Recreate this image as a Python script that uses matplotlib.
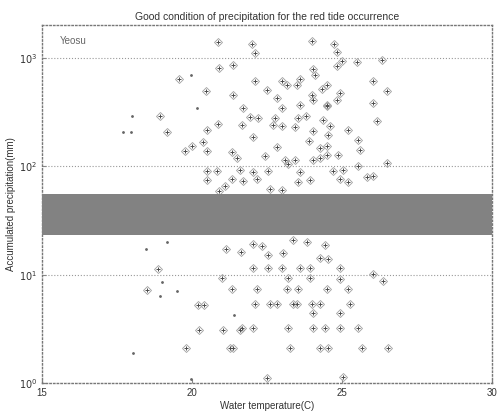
import matplotlib
matplotlib.use("Agg")
import matplotlib.pyplot as plt

plt.rcParams['font.family'] = ['Liberation Sans', 'DejaVu Sans']

# water temperature (C) and accumulated precipitation (mm)
temp = [20.87, 21.37, 20.9, 19.57, 20.47, 21.37, 21.7, 22.0, 22.1, 24.0, 24.73, 24.83,
        24.83, 25.0, 25.5, 26.33, 24.03, 24.1, 22.1, 23.0, 23.17, 23.6, 23.5, 22.5,
        22.83, 24.0, 24.03, 24.33, 24.5, 24.83, 24.93, 24.5, 23.6, 26.03, 26.5, 26.03,
        23.0,
        18.93, 20.87, 21.67, 20.5, 19.17, 20.37, 20.0, 19.77, 20.5, 21.33, 21.5, 21.6,
        20.83, 20.5, 20.5, 21.33, 21.7, 21.1, 20.9,
        24.5, 21.93, 22.2, 22.77, 23.53, 23.8, 24.37, 22.7, 23.0, 23.43, 24.6, 26.17,
        25.2, 24.53, 24.03, 22.03, 23.9, 25.53, 22.83, 24.27, 24.5, 25.6, 22.43, 23.1,
        23.43, 24.03, 24.27, 24.5, 24.87, 25.53, 26.5, 22.03, 22.53, 23.2, 23.6, 24.7,
        25.03, 24.93, 25.2, 22.17, 23.93, 23.53, 22.6, 23.0, 25.83, 26.03,
        22.0, 23.0, 24.0, 21.0, 24.5, 25.0, 20.0, 23.5, 22.5, 25.5,
        21.13, 21.63, 18.87, 21.0, 18.5, 21.33, 20.2, 20.4, 20.23, 21.03, 21.6, 19.8,
        21.27, 21.37,
        22.03, 22.33, 23.37, 23.83, 24.43, 22.53, 23.03, 22.03, 22.53, 23.0, 23.6, 23.93,
        24.27, 24.53, 24.93, 23.2, 23.93, 24.93, 26.03, 26.37, 22.17, 23.17, 23.53, 24.5,
        25.2, 22.1, 22.6, 22.83, 23.37, 23.5, 24.0, 24.27, 25.27, 24.03, 24.93, 23.2,
        24.03, 24.43, 24.93, 25.53, 22.03, 21.67, 23.27, 24.27, 24.53, 25.67, 26.53,
        25.03, 22.5]
precip = [1400, 860, 810, 630, 490, 450, 345, 1340, 1110, 1420, 1340, 1130,
          845, 940, 920, 960, 780, 700, 605, 615, 555, 630, 555, 500,
          425, 450, 405, 520, 555, 405, 470, 365, 365, 615, 490, 380,
          345,
          290, 245, 240, 215, 205, 168, 155, 139, 139, 136, 120, 93,
          90, 90, 74, 76, 73, 65, 59,
          355, 285, 280, 280, 280, 290, 265, 240, 235, 230, 235, 260,
          215, 195, 210, 185, 170, 175, 150, 148, 155, 142, 125, 115,
          113, 113, 120, 128, 128, 101, 108, 88, 91, 104, 88, 91,
          93, 76, 71, 76, 74, 71, 61, 60, 79, 82,
          40, 35, 30, 45, 48, 28, 38, 50, 26, 33,
          17.4, 16.3, 11.2, 9.3, 7.2, 7.4, 5.3, 5.3, 3.1, 3.1, 3.1, 2.1,
          2.1, 2.1,
          19.3, 18.5, 21, 20, 18.9, 15.3, 15.7, 11.4, 11.4, 11.4, 11.4, 11.4,
          14.1, 13.8, 11.4, 9.3, 9.3, 9.1, 10.1, 8.7, 7.4, 7.4, 7.4, 7.4,
          7.4, 5.4, 5.4, 5.4, 5.4, 5.4, 5.4, 5.4, 5.4, 4.4, 4.4, 3.2,
          3.2, 3.2, 3.2, 3.2, 3.2, 3.2, 2.1, 2.1, 2.1, 2.1, 2.1,
          1.13, 1.11]

# faint single dots
dot_temp = [19.97, 20.17, 18.0, 17.7, 17.97, 19.17, 18.47, 19.0, 19.5, 18.93, 21.4, 18.03, 19.97]
dot_precip = [700, 345, 290, 205, 205, 20, 17.4, 8.5, 7.1, 6.3, 4.2, 1.9, 1.1]

# favourable precipitation range (mm)
band_low = 23
band_high = 55

xticks = [15, 20, 25, 30]
yticks = [1, 10, 100, 1000]
ytick_labels = [r'$10^0$', r'$10^1$', r'$10^2$', r'$10^3$']

fig = plt.figure(figsize=(5.02, 4.11), dpi=100)
ax = fig.add_axes([0.084, 0.068, 0.896, 0.871])

ax.axhspan(band_low, band_high, color='#828282', zorder=3, lw=0)
ax.plot(temp, precip, 'D', ms=4, mfc='none', mec='#a0a0a0', mew=0.6, zorder=2)
ax.plot(temp, precip, '+', ms=3.5, color='#4a4a4a', mew=0.7, zorder=2)
ax.plot(dot_temp, dot_precip, '.', ms=2, color='#666666', zorder=2)

ax.set_yscale('log')
ax.set_xlim(15, 30)
ax.set_ylim(1, 2000)
ax.set_xticks(xticks)
ax.set_yticks(yticks)
ax.set_yticklabels(ytick_labels)
ax.minorticks_off()
ax.tick_params(direction='in', labelsize=7, length=3, color='#888888', labelcolor='#333333')
ax.yaxis.grid(True, linestyle=':', color='#999999', lw=0.8)
for s in ax.spines.values():
    s.set_linestyle(':')
    s.set_color('#777777')
    s.set_linewidth(1.0)

ax.text(0.04, 0.955, 'Yeosu', transform=ax.transAxes, fontsize=7, color='#666666', va='center')
ax.set_title('Good condition of precipitation for the red tide occurrence',
             fontsize=7.5, pad=4, color='#333333')
ax.set_xlabel('Water temperature(C)', fontsize=7, labelpad=2, color='#333333')
ax.set_ylabel('Accumulated precipitation(mm)', fontsize=7, labelpad=2, color='#333333')

fig.savefig('out.png', dpi=100)
